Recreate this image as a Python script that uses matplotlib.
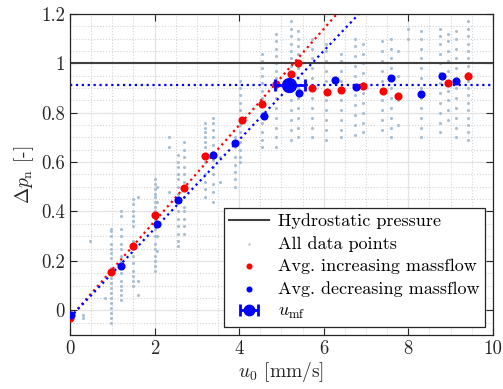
import numpy as np
import matplotlib
matplotlib.use("Agg")
import matplotlib.pyplot as plt
from matplotlib.ticker import MultipleLocator, FuncFormatter

plt.rcParams['font.family'] = 'serif'
plt.rcParams['font.serif'] = ['cmr10', 'DejaVu Serif']
plt.rcParams['mathtext.fontset'] = 'cm'
plt.rcParams['axes.formatter.use_mathtext'] = True

# all raw data points, grouped in columns of (nearly) constant u0
col_u0 = [0.3, 0.48, 0.83, 0.98, 1.2, 1.5, 1.62, 2.0, 2.06, 2.35, 2.56, 2.7,
          3.2, 3.38, 3.55, 3.9, 4.02, 4.54, 4.87, 5.22, 5.39, 5.72, 6.05, 6.4,
          6.75, 6.92, 7.38, 7.6, 7.75, 8.0, 8.3, 8.75, 8.94, 9.13, 9.42]
col_dp = [
    [-0.02, -0.03],
    [0.28],
    [0.05],
    [0.33, 0.32, 0.30, 0.27, 0.25, 0.23, 0.21, 0.17, 0.15, 0.13, 0.11, 0.09, 0.07, 0.05, 0.03, 0.01, -0.01, -0.03, -0.05],
    [0.40, 0.38, 0.33, 0.30, 0.27, 0.25, 0.22, 0.20, 0.15, 0.12, 0.10, 0.08, 0.06, 0.04],
    [0.45, 0.43, 0.40, 0.38, 0.36, 0.34, 0.28, 0.25, 0.22, 0.19, 0.16, 0.14, 0.12, 0.10],
    [0.06, 0.12, 0.46],
    [0.53, 0.51, 0.49, 0.47, 0.46, 0.44, 0.42, 0.40, 0.37, 0.33, 0.30, 0.27, 0.25, 0.22, 0.20, 0.18, 0.16],
    [0.50, 0.44, 0.30, 0.24],
    [0.70, 0.66, 0.48],
    [0.63, 0.60, 0.58, 0.55, 0.53, 0.50, 0.47, 0.44, 0.40, 0.37, 0.34, 0.31, 0.28, 0.26],
    [0.68, 0.65, 0.62, 0.58, 0.55, 0.52, 0.49, 0.46, 0.42, 0.40, 0.37, 0.34, 0.31],
    [0.76, 0.74, 0.72, 0.70, 0.68, 0.66, 0.60, 0.55, 0.52, 0.49, 0.46],
    [0.78, 0.76, 0.73, 0.70, 0.67, 0.64, 0.61, 0.58, 0.55, 0.51, 0.48, 0.44],
    [0.52, 0.62],
    [0.70, 0.68, 0.66, 0.62, 0.59, 0.56, 0.53, 0.50],
    [0.93, 0.90, 0.87, 0.84, 0.81, 0.78, 0.75, 0.72, 0.68, 0.65, 0.62, 0.60],
    [1.04, 1.01, 0.98, 0.95, 0.92, 0.89, 0.86, 0.83, 0.80, 0.76, 0.72, 0.69, 0.66],
    [1.12, 1.09, 1.06, 1.03, 1.00, 0.97, 0.94, 0.90, 0.86, 0.82, 0.78, 0.74, 0.70, 0.66],
    [1.17, 1.14, 1.11, 1.08, 1.05, 1.02, 0.99, 0.96, 0.93, 0.89, 0.85, 0.81, 0.77, 0.73, 0.69],
    [1.13, 1.10, 1.07, 1.04, 0.98, 0.94, 0.90, 0.86, 0.82, 0.78, 0.74, 0.70],
    [1.10, 1.06, 1.02, 0.98, 0.94, 0.90, 0.86, 0.82, 0.78, 0.74, 0.70],
    [1.08, 1.05, 1.01, 0.97, 0.93, 0.89, 0.85, 0.81, 0.77, 0.73, 0.69],
    [1.04, 1.01, 0.97, 0.93, 0.89, 0.85, 0.81, 0.77, 0.73, 0.70],
    [1.10, 1.07, 1.03, 0.99, 0.95, 0.91, 0.87, 0.83, 0.79, 0.75, 0.71],
    [1.08, 1.04, 1.00, 0.96, 0.92, 0.88, 0.84, 0.80, 0.76, 0.72],
    [1.09, 1.05, 1.01, 0.97, 0.93, 0.89, 0.85, 0.81, 0.77, 0.73],
    [1.10, 1.06, 1.02, 0.98, 0.94, 0.90, 0.86, 0.82, 0.78, 0.74, 0.70],
    [1.05, 0.95, 0.85, 0.75],
    [1.10, 1.14],
    [1.13, 1.10, 1.06, 1.02, 0.98, 0.94, 0.90, 0.86, 0.82, 0.78, 0.74, 0.70],
    [1.14, 1.11, 1.08, 1.04, 1.00, 0.96, 0.92, 0.88, 0.84, 0.80, 0.76, 0.72],
    [1.12, 1.09, 1.05, 1.01, 0.97, 0.93, 0.89, 0.85, 0.81, 0.77],
    [1.13, 1.10, 1.06, 1.02, 0.98, 0.94, 0.90, 0.86, 0.82, 0.78, 0.74, 0.70],
    [1.17, 1.14, 1.11, 1.08, 1.05, 1.02, 0.99, 0.96, 0.93, 0.90, 0.87, 0.84, 0.81, 0.78, 0.75, 0.72, 0.69],
]

# averaged points
inc_u0 = [0.0, 0.98, 1.49, 2.01, 2.70, 3.20, 4.06, 4.55, 4.87, 5.22, 5.39, 5.72,
          6.07, 6.41, 6.92, 7.39, 7.75, 8.94, 9.42]
inc_dp = [-0.03, 0.153, 0.26, 0.385, 0.495, 0.623, 0.772, 0.834, 0.915, 0.957, 1.0, 0.90,
          0.883, 0.894, 0.91, 0.887, 0.868, 0.922, 0.947]
dec_u0 = [0.02, 1.2, 2.06, 2.56, 3.39, 3.90, 4.58, 5.42, 6.26, 6.77, 7.60, 8.29, 8.79, 9.13]
dec_dp = [-0.018, 0.178, 0.351, 0.445, 0.628, 0.679, 0.788, 0.88, 0.931, 0.903, 0.941, 0.876, 0.949, 0.927]

# linear fits (end points) and minimum fluidisation point
inc_fit_u0 = [0.0, 6.31]
inc_fit_dp = [-0.03, 1.2]
dec_fit_u0 = [0.0, 6.83]
dec_fit_dp = [-0.03, 1.2]
dp_plateau = 0.911
dp_hydro = 1.0
umf = 5.18
umf_lo, umf_hi = 4.85, 5.56

scatter_u0 = np.concatenate([[u] * len(d) for u, d in zip(col_u0, col_dp)])
scatter_dp = np.concatenate(col_dp)

fig = plt.figure(figsize=(5.03, 3.89), dpi=100)
ax = fig.add_axes([0.139, 0.139, 0.841, 0.825])

ax.set_xlim(0, 10)
ax.set_ylim(-0.1, 1.2)
ax.xaxis.set_major_locator(MultipleLocator(2))
ax.xaxis.set_minor_locator(MultipleLocator(0.5))
ax.yaxis.set_major_locator(MultipleLocator(0.2))
ax.yaxis.set_minor_locator(MultipleLocator(0.05))
ax.yaxis.set_major_formatter(FuncFormatter(lambda v, p: '%g' % round(v, 2)))
ax.xaxis.set_major_formatter(FuncFormatter(lambda v, p: '%g' % v))
ax.grid(which='major', color='#e3e3e3', lw=0.9)
ax.grid(which='minor', color='#d4d4d4', lw=0.8, ls=':')
ax.set_axisbelow(True)
ax.tick_params(which='both', direction='in', top=True, right=True, colors='#262626',
               labelcolor='#262626', labelsize=13.5)
ax.tick_params(which='minor', length=0)
ax.tick_params(which='major', length=5)
for s in ax.spines.values():
    s.set_color('#262626')
    s.set_linewidth(0.9)

h_hyd = ax.axhline(dp_hydro, color='#404040', lw=1.5, label='Hydrostatic pressure')
h_all = ax.scatter(scatter_u0, scatter_dp, s=5, color='#a8bfd2', lw=0, label='All data points')
ax.plot(inc_fit_u0, inc_fit_dp, color='red', ls=':', lw=1.6)
ax.plot(dec_fit_u0, dec_fit_dp, color='blue', ls=':', lw=1.6)
ax.axhline(dp_plateau, color='blue', ls=':', lw=1.6)
h_inc = ax.scatter(inc_u0, inc_dp, s=34, color='red', lw=0, zorder=4,
                   label='Avg. increasing massflow')
h_dec = ax.scatter(dec_u0, dec_dp, s=34, color='blue', lw=0, zorder=4,
                   label='Avg. decreasing massflow')
h_umf = ax.errorbar([umf], [dp_plateau], xerr=[[umf - umf_lo], [umf_hi - umf]], fmt='o',
                    color='blue', ms=10, lw=2, capsize=4, capthick=2, zorder=5,
                    label=r'$u_{\mathrm{mf}}$')

ax.set_xlabel(r'$u_0$ [mm/s]', fontsize=14, color='#262626', labelpad=2)
ax.set_ylabel(r'$\Delta p_{\mathrm{n}}$ [-]', fontsize=14, color='#262626', labelpad=4)

leg = ax.legend(handles=[h_hyd, h_all, h_inc, h_dec, h_umf], loc='lower right',
                fontsize=13, frameon=True, fancybox=False, framealpha=1,
                edgecolor='#262626', borderaxespad=0.45, labelspacing=0.38,
                handlelength=2.2, handletextpad=0.5, borderpad=0.3,
                markerscale=0.75)
leg.get_frame().set_linewidth(0.9)

fig.savefig('out.png', dpi=100)
